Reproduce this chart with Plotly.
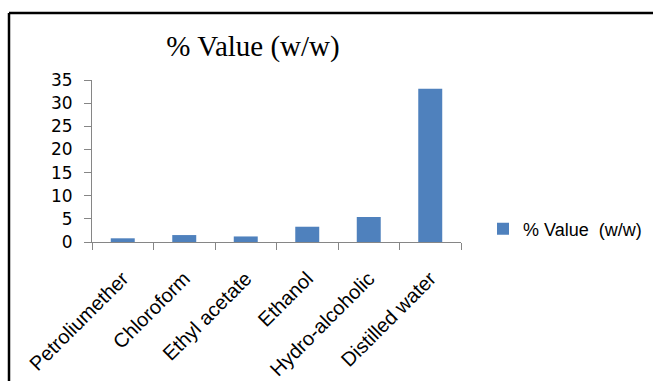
import plotly.graph_objects as go

categories = ["Petroliumether", "Chloroform", "Ethyl acetate", "Ethanol", "Hydro-alcoholic", "Distilled water"]
values = [0.8, 1.5, 1.2, 3.3, 5.4, 33.1]
series_name = "% Value  (w/w)"
title_text = "% Value (w/w)"
y_ticks = [0, 5, 10, 15, 20, 25, 30, 35]

W, H = 653, 381
L, R, T, B = 92, 192, 80, 139
pw, ph = W - L - R, H - T - B

def px(x):
    return (x - L) / pw

def py(y):
    return (H - B - y) / ph

fig = go.Figure()
fig.add_trace(go.Bar(x=categories, y=values, name=series_name,
                     marker=dict(color="#4F81BD", line=dict(width=0))))

fig.update_layout(
    width=W, height=H,
    margin=dict(l=L, r=R, t=T, b=B, autoexpand=False),
    paper_bgcolor="white", plot_bgcolor="white",
    bargap=0.61,
    showlegend=True,
    title=dict(text=title_text, x=px(253), xanchor="center", xref="paper",
               y=1 - 46 / H, yanchor="middle", automargin=False,
               font=dict(family="Liberation Serif", size=29, color="black")),
    legend=dict(x=px(483), y=py(229), xanchor="left", yanchor="middle",
                font=dict(family="Liberation Sans", size=18, color="black"),
                bgcolor="rgba(0,0,0,0)", itemwidth=30),
    xaxis=dict(type="category", showline=True, linecolor="#868686", linewidth=1,
               ticks="outside", tickson="boundaries", ticklen=7, tickcolor="#868686",
               tickangle=-45, showgrid=False, ticklabelstandoff=16, automargin=False,
               tickfont=dict(family="Liberation Sans", size=20, color="black")),
    yaxis=dict(range=[0, 35], tickvals=y_ticks, showline=True, linecolor="#868686",
               linewidth=1, ticks="outside", ticklen=7, tickcolor="#868686",
               showgrid=False, zeroline=False, ticklabelstandoff=8, automargin=False,
               tickfont=dict(family="DejaVu Sans", size=17, color="black")),
    shapes=[
        dict(type="line", xref="paper", yref="paper", x0=px(9), x1=px(653), y0=py(13), y1=py(13),
             line=dict(color="black", width=2.5)),
        dict(type="line", xref="paper", yref="paper", x0=px(9), x1=px(9), y0=py(13), y1=py(381),
             line=dict(color="black", width=2.5)),
    ],
)

fig.write_html("out.html")
